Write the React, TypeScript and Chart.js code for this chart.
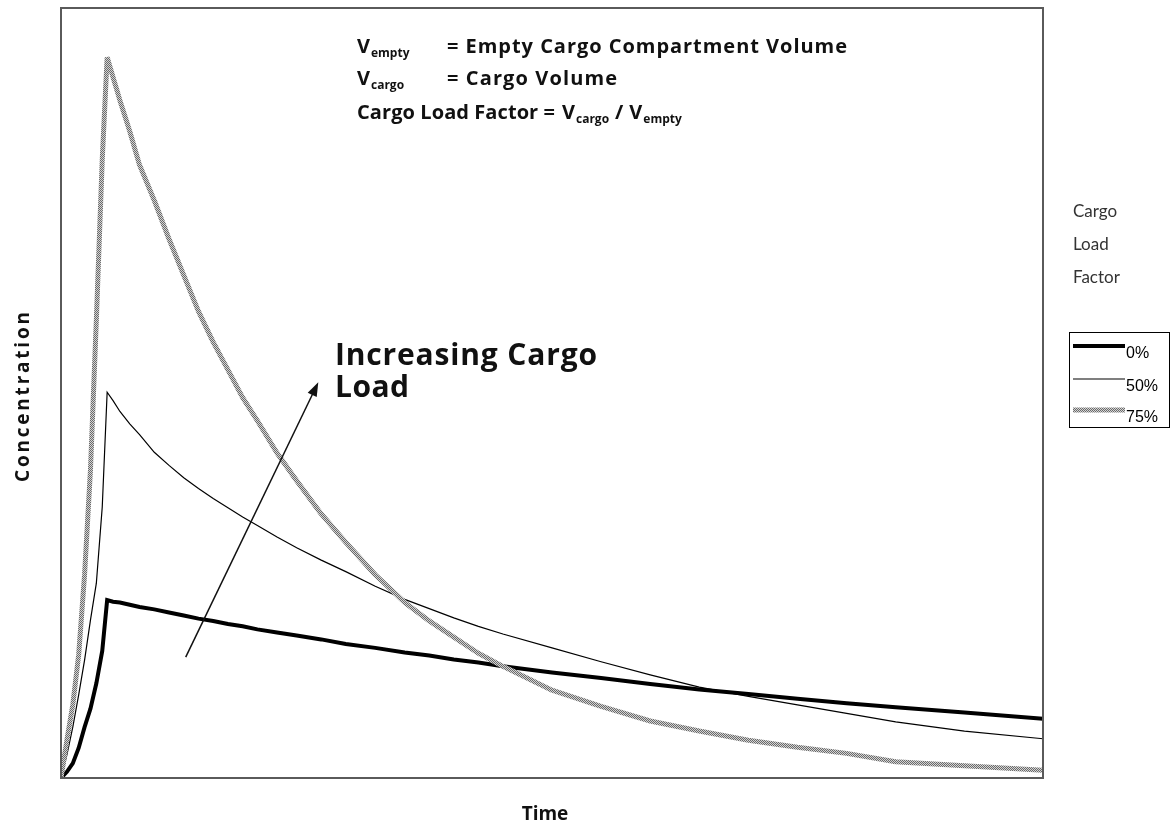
import React, { useEffect, useRef } from 'react';
import { Chart, registerables } from 'chart.js';

Chart.register(...registerables);

// ---- data ----
const times = [0, 0.6, 1.2, 1.8, 2.4, 3.0, 3.6, 4.2, 4.7, 5.3, 6, 7, 8, 9.5, 11, 12.5, 14, 15.5, 17, 18.5, 20, 22, 24, 26.5, 29, 32, 35, 37.5, 40, 42.5, 45, 50, 55, 60, 65, 70, 75, 80, 85, 92, 100];
const load0 = [0, 0.8, 1.9, 3.9, 6.6, 9.0, 12.3, 16.5, 23.1, 22.9, 22.8, 22.5, 22.2, 21.9, 21.5, 21.1, 20.7, 20.4, 20.0, 19.7, 19.3, 18.9, 18.5, 18.0, 17.4, 16.9, 16.3, 15.9, 15.4, 15.0, 14.5, 13.7, 13.0, 12.2, 11.5, 10.9, 10.3, 9.7, 9.2, 8.5, 7.7];
const load50 = [0, 3.0, 6.6, 10.8, 15.3, 20.5, 25.3, 35.2, 50.1, 49.0, 47.6, 46.0, 44.6, 42.3, 40.6, 39.0, 37.6, 36.3, 35.1, 33.9, 32.8, 31.3, 29.9, 28.3, 26.8, 24.9, 23.2, 22.0, 20.8, 19.7, 18.7, 16.9, 15.1, 13.4, 11.8, 10.6, 9.5, 8.4, 7.3, 6.1, 5.1];
const load75 = [0, 4.9, 9.5, 16.0, 26.4, 40.0, 59.5, 80.3, 93.6, 91.0, 88.0, 84.0, 79.6, 75.0, 70.0, 65.3, 60.6, 56.6, 53.0, 49.4, 46.4, 42.2, 38.6, 34.3, 30.6, 26.4, 22.8, 20.4, 18.3, 16.2, 14.5, 11.4, 9.3, 7.4, 6.1, 4.9, 4.0, 3.2, 2.1, 1.6, 1.0];
const seriesLabels = ['0%', '50%', '75%'];
const legendTitle = ['Cargo', 'Load', 'Factor'];
const xTitle = 'Time';
const yTitle = 'Concentration';
const arrowLabel = ['Increasing Cargo', 'Load'];

const BOLD = '"Open Sans", "DejaVu Sans", sans-serif';

function drawSpaced(ctx: CanvasRenderingContext2D, text: string, x: number, y: number, font: string, width?: number, align: 'left' | 'center' = 'left') {
  ctx.font = font;
  (ctx as any).letterSpacing = '0px';
  const natural = ctx.measureText(text).width;
  let ls = 0;
  if (width) ls = (width - natural) / Math.max(1, text.length - 1);
  const total = width ?? natural;
  const x0 = align === 'center' ? x - total / 2 : x;
  (ctx as any).letterSpacing = ls + 'px';
  ctx.textAlign = 'left';
  ctx.fillText(text, x0, y);
  (ctx as any).letterSpacing = '0px';
  return x0 + total;
}

function drawV(ctx: CanvasRenderingContext2D, x: number, y: number, sub: string) {
  ctx.font = `bold 20px ${BOLD}`;
  ctx.textAlign = 'left';
  ctx.fillText('V', x, y);
  const w = ctx.measureText('V').width;
  ctx.font = `bold 12px ${BOLD}`;
  ctx.fillText(sub, x + w + 1, y + 4);
  return x + w + 1 + ctx.measureText(sub).width;
}

const decor = {
  id: 'decor',
  afterDraw(chart: any) {
    const { ctx, chartArea: a } = chart;
    const xs = chart.scales.x;
    const ys = chart.scales.y;
    ctx.save();
    // plot border
    ctx.strokeStyle = '#5a5a5a';
    ctx.lineWidth = 2;
    ctx.strokeRect(a.left, a.top, a.right - a.left, a.bottom - a.top);

    ctx.fillStyle = '#111';
    ctx.textBaseline = 'alphabetic';
    // axis titles
    drawSpaced(ctx, xTitle, (a.left + a.right) / 2 - 7, 820, `bold 19px ${BOLD}`, undefined, 'center');
    ctx.save();
    ctx.translate(29, (a.top + a.bottom) / 2 + 4);
    ctx.rotate(-Math.PI / 2);
    drawSpaced(ctx, yTitle, 0, 0, `bold 19px ${BOLD}`, 170, 'center');
    ctx.restore();

    // header definitions
    drawV(ctx, 357, 53, 'empty');
    drawSpaced(ctx, '= Empty Cargo Compartment Volume', 447, 53, `bold 20px ${BOLD}`, 400);
    drawV(ctx, 357, 85, 'cargo');
    drawSpaced(ctx, '= Cargo Volume', 447, 85, `bold 20px ${BOLD}`, 170);
    const e3 = drawSpaced(ctx, 'Cargo Load Factor =', 357, 119, `bold 20px ${BOLD}`, 198);
    const v1 = drawV(ctx, e3 + 7, 119, 'cargo');
    const sl = drawSpaced(ctx, '/', v1 + 6, 119, `bold 20px ${BOLD}`);
    drawV(ctx, sl + 6, 119, 'empty');

    // arrow
    const x0 = xs.getPixelForValue(12.7), y0 = ys.getPixelForValue(15.7);
    const x1 = xs.getPixelForValue(26.2), y1 = ys.getPixelForValue(51.4);
    const ang = Math.atan2(y1 - y0, x1 - x0);
    ctx.strokeStyle = '#111';
    ctx.lineWidth = 1.5;
    ctx.beginPath();
    ctx.moveTo(x0, y0);
    ctx.lineTo(x1 - 10 * Math.cos(ang), y1 - 10 * Math.sin(ang));
    ctx.stroke();
    ctx.beginPath();
    ctx.moveTo(x1, y1);
    ctx.lineTo(x1 - 14 * Math.cos(ang) + 5 * Math.sin(ang), y1 - 14 * Math.sin(ang) - 5 * Math.cos(ang));
    ctx.lineTo(x1 - 14 * Math.cos(ang) - 5 * Math.sin(ang), y1 - 14 * Math.sin(ang) + 5 * Math.cos(ang));
    ctx.closePath();
    ctx.fillStyle = '#111';
    ctx.fill();
    drawSpaced(ctx, arrowLabel[0], 335, 365, `bold 30px ${BOLD}`, 262);
    drawSpaced(ctx, arrowLabel[1], 335, 397, `bold 30px ${BOLD}`, 74);

    // legend title
    ctx.fillStyle = '#333';
    legendTitle.forEach((t, i) => {
      drawSpaced(ctx, t, 1073, 217 + i * 33, `17px ${'Lato, "Open Sans", sans-serif'}`);
    });

    // legend box
    ctx.strokeStyle = '#000';
    ctx.lineWidth = 1;
    ctx.strokeRect(1069.5, 332.5, 100, 95);
    const rowY = [346, 379, 410];
    chart.data.datasets.forEach((ds: any, i: number) => {
      ctx.strokeStyle = ds.borderColor;
      ctx.lineWidth = ds.borderWidth;
      ctx.beginPath();
      ctx.moveTo(1073, rowY[i]);
      ctx.lineTo(1125, rowY[i]);
      ctx.stroke();
      ctx.fillStyle = '#000';
      ctx.font = '16px "Liberation Sans", Arial, sans-serif';
      ctx.textAlign = 'left';
      ctx.fillText(seriesLabels[i], 1126, rowY[i] + 12);
    });
    ctx.restore();
  },
};

export default function App() {
  const ref = useRef<HTMLCanvasElement>(null);
  useEffect(() => {
    const canvas = ref.current!;
    const ctx = canvas.getContext('2d')!;
    const tile = document.createElement('canvas');
    tile.width = 2;
    tile.height = 2;
    const tg = tile.getContext('2d')!;
    tg.fillStyle = '#d4d4d4';
    tg.fillRect(0, 0, 2, 2);
    tg.fillStyle = '#6a6a6a';
    tg.fillRect(0, 0, 1, 1);
    tg.fillRect(1, 1, 1, 1);
    const pattern = ctx.createPattern(tile, 'repeat')!;

    const pts = (vals: number[]) => times.map((t, i) => ({ x: t, y: vals[i] }));
    const chart = new Chart(canvas, {
      type: 'line',
      data: {
        datasets: [
          { label: seriesLabels[0], data: pts(load0), borderColor: '#000', borderWidth: 4, pointRadius: 0, tension: 0, order: 2 },
          { label: seriesLabels[1], data: pts(load50), borderColor: '#000', borderWidth: 1.2, pointRadius: 0, tension: 0, order: 1 },
          { label: seriesLabels[2], data: pts(load75), borderColor: pattern as any, borderWidth: 5, borderJoinStyle: 'bevel', pointRadius: 0, tension: 0, order: 0 },
        ],
      },
      options: {
        animation: false,
        responsive: false,
        layout: { padding: { left: 61, top: 8, right: 129, bottom: 46 } },
        scales: {
          x: { type: 'linear', min: 0, max: 100, display: false },
          y: { type: 'linear', min: 0, max: 100, display: false },
        },
        plugins: { legend: { display: false }, tooltip: { enabled: false } },
      },
      plugins: [decor],
    });
    return () => chart.destroy();
  }, []);
  return (
    <div style={{ position: 'absolute', left: 0, top: 0, width: 1172, height: 824, background: '#fff' }}>
      <canvas ref={ref} width={1172} height={824} style={{ display: 'block' }} />
    </div>
  );
}
